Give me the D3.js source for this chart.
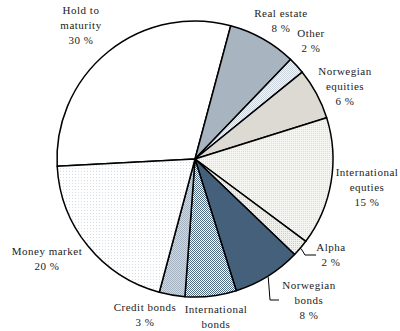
<!DOCTYPE html>
<html>
<head>
<meta charset="utf-8">
<script src="https://cdn.jsdelivr.net/npm/d3@7"></script>
<style>
  html, body { margin: 0; padding: 0; background: #fff; }
  svg { display: block; }
</style>
</head>
<body>
<svg id="chart" width="400" height="331"></svg>
<script>
// Portfolio composition, in per cent
const categories = ["Hold to maturity", "Real estate", "Other", "Norwegian equities",
  "International equities", "Alpha", "Norwegian bonds", "International bonds",
  "Credit bonds", "Money market"];
const shares = [30, 8, 2, 6, 15, 2, 8, 6, 3, 20];
const labelLines = [
  ["Hold to", "maturity", "30 %"],
  ["Real estate", "8 %"],
  ["Other", "2 %"],
  ["Norwegian", "equities", "6 %"],
  ["International", "equties", "15 %"],
  ["Alpha", "2 %"],
  ["Norwegian", "bonds", "8 %"],
  ["International", "bonds"],
  ["Credit bonds", "3 %"],
  ["Money market", "20 %"]
];

// Layout
const cx = 195, cy = 159, radius = 138;
const startDeg = -93;
const lineGap = 15;
const labelFont = "'Liberation Serif', 'Times New Roman', Times, serif";
const labelAnchor = [
  [81, 14], [281, 17], [311, 37], [345, 75], [367, 176],
  [331, 251], [309, 289], [216, 313], [145, 311], [47, 255]
];
const fills = ["#ffffff", "url(#pRealEstate)", "url(#pOther)", "#dcdad3",
  "url(#pIntlEq)", "url(#pAlpha)", "#44607a", "url(#pIntlBonds)",
  "url(#pCredit)", "url(#pMoney)"];

const svg = d3.select("#chart");
const defs = svg.append("defs");

// Fine dot / checker textures for the hatched slices
function dotPattern(id, bg, dot, size) {
  const p = defs.append("pattern").attr("id", id)
    .attr("patternUnits", "userSpaceOnUse").attr("width", size).attr("height", size);
  p.append("rect").attr("width", size).attr("height", size).attr("fill", bg);
  p.append("rect").attr("width", 1).attr("height", 1).attr("fill", dot);
}
function checkerPattern(id, a, b) {
  const p = defs.append("pattern").attr("id", id)
    .attr("patternUnits", "userSpaceOnUse").attr("width", 2).attr("height", 2);
  p.append("rect").attr("width", 2).attr("height", 2).attr("fill", a);
  p.append("rect").attr("width", 1).attr("height", 1).attr("fill", b);
  p.append("rect").attr("x", 1).attr("y", 1).attr("width", 1).attr("height", 1).attr("fill", b);
}
function solidPattern(id, c) {
  const p = defs.append("pattern").attr("id", id)
    .attr("patternUnits", "userSpaceOnUse").attr("width", 4).attr("height", 4);
  p.append("rect").attr("width", 4).attr("height", 4).attr("fill", c);
}
solidPattern("pRealEstate", "#a8b4c0");
checkerPattern("pOther", "#f4f6f8", "#ccd5de");
dotPattern("pIntlEq", "#f5f5f2", "#dcdcd6", 2);
dotPattern("pAlpha", "#f0f0ec", "#cfcfc8", 2);
checkerPattern("pIntlBonds", "#ffffff", "#4f6b86");
checkerPattern("pCredit", "#d2dae2", "#a4b2c0");
dotPattern("pMoney", "#ffffff", "#d6dce3", 3);

const pie = d3.pie().sort(null).value(d => d)
  .startAngle(startDeg * Math.PI / 180)
  .endAngle(startDeg * Math.PI / 180 + 2 * Math.PI);
const arc = d3.arc().innerRadius(0).outerRadius(radius);
const arcs = pie(shares);

const g = svg.append("g").attr("transform", `translate(${cx},${cy})`);
g.selectAll("path.slice").data(arcs).join("path")
  .attr("class", "slice")
  .attr("d", arc)
  .attr("fill", (d, i) => fills[i])
  .attr("stroke", "#000")
  .attr("stroke-width", 1.5)
  .attr("stroke-linejoin", "round");

// Leader lines for the two slices whose labels sit away from the rim
function leader(i, elbow, end) {
  const a = arcs[i];
  const mid = (a.startAngle + a.endAngle) / 2;
  const p0 = [cx + Math.sin(mid) * (radius + 1), cy - Math.cos(mid) * (radius + 1)];
  svg.append("path")
    .attr("d", d3.line()([p0, elbow, end]))
    .attr("fill", "none").attr("stroke", "#000").attr("stroke-width", 1);
}
leader(5, [305, 255], [316, 255]);
leader(6, [270, 300], [279, 300]);

// Labels
const labels = svg.append("g")
  .attr("font-family", labelFont)
  .attr("font-size", 11)
  .attr("letter-spacing", 0.5)
  .attr("fill", "#222");
labelLines.forEach((lines, i) => {
  const [x, y] = labelAnchor[i];
  const t = labels.append("text").attr("text-anchor", "middle");
  lines.forEach((s, k) => {
    t.append("tspan").attr("x", x).attr("y", y + k * lineGap).text(s);
  });
});
</script>
</body>
</html>
